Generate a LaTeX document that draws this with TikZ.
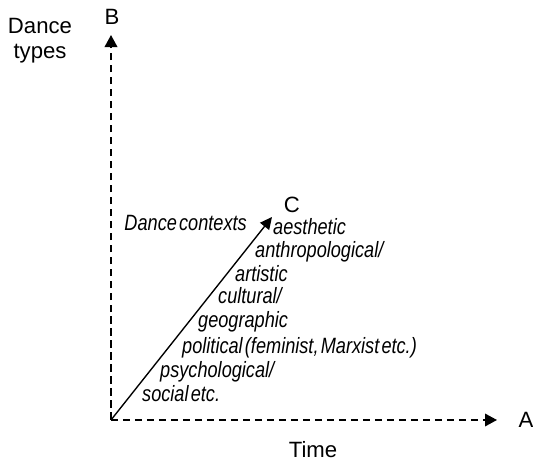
\documentclass[tikz,border=0pt]{standalone}
\usepackage{fontspec}
\setmainfont{Liberation Sans}
\newfontfamily\narrowfont[FakeStretch=0.82]{Liberation Sans}
\newcommand{\ctxfont}{\narrowfont\itshape\fontsize{21}{24}\selectfont\spaceskip 0.1em\relax}
\usetikzlibrary{arrows.meta}
\tikzset{
  axis/.style={line width=1.5pt, dash pattern=on 0.25cm off 0.15cm, -{Triangle[length=0.4cm,width=0.42cm]}},
  ctxarrow/.style={line width=1.3pt, -{Triangle[length=0.4cm,width=0.38cm]}},
  axislabel/.style={font=\fontsize{21}{24}\selectfont, inner sep=0pt},
  ctxitem/.style={font=\ctxfont, inner sep=0pt, anchor=base west}
}
\begin{document}
\begin{tikzpicture}
\useasboundingbox (0,0) rectangle (17.767,15.4);

\coordinate (O) at (3.7,1.4);
\coordinate (Btip) at (3.7,14.233);
\coordinate (Atip) at (16.567,1.4);
\coordinate (Ctip) at (9.067,8.167);

\node[axislabel] (lblB) at (3.733,14.833) {B};
\node[axislabel] (lblA) at (17.533,1.4) {A};
\node[axislabel] (lblC) at (9.733,8.567) {C};

\node[axislabel, align=center] (lblTypes) at (1.333,14.05) {Dance\\types};
\node[axislabel] (lblTime) at (10.433,0.4) {Time};

\draw[axis] (O) -- (Btip);
\draw[axis] (O) -- (Atip);
\draw[ctxarrow] (O) -- (Ctip);

\node[ctxitem, anchor=base east] (lblCtx) at (8.233,7.733) {Dance contexts};

\node[ctxitem] (aes) at (9.1,7.567) {aesthetic};
\node[ctxitem] (anthro) at (8.5,6.8) {anthropological/};
\node[ctxitem] (art) at (7.833,6.033) {artistic};
\node[ctxitem] (cult) at (7.267,5.267) {cultural/};
\node[ctxitem] (geo) at (6.6,4.467) {geographic};
\node[ctxitem] (pol) at (6.067,3.633) {political (feminist, Marxist etc.)};
\node[ctxitem] (psy) at (5.333,2.833) {psychological/};
\node[ctxitem] (soc) at (4.733,2.0) {social etc.};

\end{tikzpicture}
\end{document}
